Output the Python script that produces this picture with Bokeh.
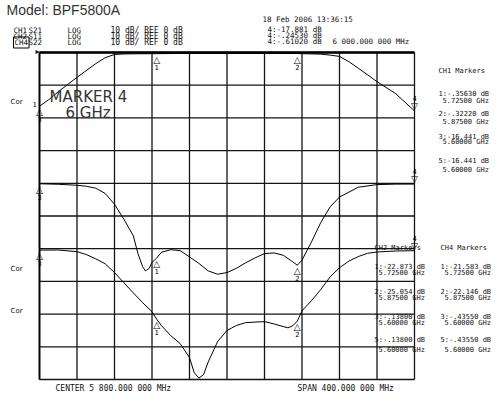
from bokeh.plotting import figure
from bokeh.models import Range1d, Label
from bokeh.embed import file_html
from bokeh.resources import INLINE

# ---------------- data ----------------
# frequency axis (GHz): center 5.8 GHz, span 400 MHz
f_start, f_stop = 5.6, 6.0
grid_f = [5.60, 5.64, 5.68, 5.72, 5.76, 5.80, 5.84, 5.88, 5.92, 5.96, 6.00]
grid_db = [0, -10, -20, -30, -40, -50, -60, -70, -80, -90, -100]

# CH1 S21 (ref 0 dB at top line, 10 dB/div)
s21_f = [5.600, 5.610, 5.620, 5.640, 5.660, 5.670, 5.680, 5.690, 5.700, 5.725, 5.750,
         5.800, 5.850, 5.875, 5.900, 5.910, 5.920, 5.930, 5.940, 5.960, 5.980, 6.000]
s21_db = [-16.44, -14.4, -12.0, -7.6, -3.4, -1.6, -0.6, -0.45, -0.4, -0.356, -0.3,
          -0.3, -0.3, -0.322, -0.5, -0.8, -1.2, -2.8, -4.8, -8.9, -12.6, -17.88]

# CH2 S11 (ref 0 dB at 4th division)
s11_f = [5.600, 5.620, 5.640, 5.650, 5.660, 5.670, 5.680, 5.690, 5.700, 5.705, 5.710,
         5.713, 5.717, 5.720, 5.725, 5.730, 5.740, 5.750, 5.760, 5.770, 5.780, 5.790,
         5.800, 5.810, 5.820, 5.830, 5.840, 5.850, 5.860, 5.870, 5.875, 5.880, 5.890,
         5.900, 5.910, 5.920, 5.940, 5.960, 5.980, 6.000]
s11_db = [-0.14, -0.3, -0.6, -0.9, -1.5, -3.1, -6.4, -11.0, -16.0, -21.5, -25.5,
          -26.8, -26.0, -24.2, -22.87, -21.1, -20.3, -20.6, -22.5, -24.5, -26.8, -27.8,
          -27.3, -26.0, -24.3, -22.8, -21.5, -21.3, -22.0, -24.0, -25.05, -23.5, -18.0,
          -12.0, -7.2, -4.2, -1.2, -0.4, -0.25, -0.245]

# CH4 S22 (ref 0 dB at 6th division)
s22_f = [5.600, 5.620, 5.640, 5.650, 5.660, 5.670, 5.680, 5.690, 5.700, 5.710, 5.720,
         5.725, 5.730, 5.740, 5.750, 5.760, 5.765, 5.770, 5.775, 5.780, 5.790, 5.800,
         5.810, 5.820, 5.840, 5.850, 5.865, 5.870, 5.875, 5.880, 5.890, 5.900, 5.910,
         5.920, 5.930, 5.940, 5.950, 5.960, 5.980, 6.000]
s22_db = [-0.4355, -0.4, -0.9, -1.8, -3.1, -4.6, -7.3, -10.4, -13.5, -16.5, -19.3,
          -21.583, -23.5, -26.6, -29.0, -33.3, -37.9, -39.6, -38.5, -34.6, -28.4, -25.0,
          -23.5, -22.6, -22.3, -23.0, -24.2, -23.6, -22.146, -19.0, -15.9, -12.5, -8.6,
          -5.8, -3.8, -2.4, -1.4, -1.0, -0.7, -0.6102]

# marker readouts (markers 1, 2, 3, 4; marker 5 = marker 3 position)
marker_ids = ["1", "2", "3", "4"]
marker_f = [5.725, 5.875, 5.600, 6.000]
s21_mk = [-0.3563, -0.3222, -16.441, -17.881]
s11_mk = [-22.873, -25.054, -0.138, -0.2453]
s22_mk = [-21.583, -22.146, -0.4355, -0.6102]

ch1_list = ["CH1 Markers", "1:-.35630 dB", "5.72500 GHz", "2:-.32220 dB", "5.87500 GHz",
            "3:-16.441 dB", "5.60000 GHz", "5:-16.441 dB", "5.60000 GHz"]
ch2_list = ["CH2 Markers", "1:-22.873 dB", "5.72500 GHz", "2:-25.054 dB", "5.87500 GHz",
            "3:-.13800 dB", "5.60000 GHz", "5:-.13800 dB", "5.60000 GHz"]
ch4_list = ["CH4 Markers", "1:-21.583 dB", "5.72500 GHz", "2:-22.146 dB", "5.87500 GHz",
            "3:-.43550 dB", "5.60000 GHz", "5:-.43550 dB", "5.60000 GHz"]
active_readout = ["4:-17.881 dB", "4:-.24530 dB", "4:-.61020 dB"]

# ---------------- layout (page pixels) ----------------
W, H = 500, 402
OFF = 0                                          # page offset of the canvas
GX0, GX1, GY0, GY1 = 39, 414, 52, 379            # graticule edges on the page
ppg = (GX1 - GX0) / (f_stop - f_start)           # px per GHz
ppd = (GY1 - GY0) / 100.0                        # px per dB
x_lo = f_start - (GX0 - OFF) / ppg
x_hi = f_stop + (OFF + W - GX1) / ppg
y_hi = (GY0 - OFF) / ppd
y_lo = -(OFF + H - GY0) / ppd

p = figure(width=W, height=H, output_backend="svg", toolbar_location=None,
           x_axis_type=None, y_axis_type=None,
           x_range=Range1d(x_lo, x_hi), y_range=Range1d(y_lo, y_hi),
           min_border=0, min_border_left=0, min_border_right=0,
           min_border_top=0, min_border_bottom=0)
p.extra_y_ranges = {"s11": Range1d(y_lo + 40, y_hi + 40), "s22": Range1d(y_lo + 60, y_hi + 60)}
p.outline_line_color = None
p.background_fill_color = "white"
p.border_fill_color = "white"
p.xgrid.visible = False
p.ygrid.visible = False

# graticule from tick arrays
n = len(grid_f)
p.segment(x0=grid_f, y0=[grid_db[-1]] * n, x1=grid_f, y1=[grid_db[0]] * n,
          line_color="#141414", line_width=1.3)
p.segment(x0=[grid_f[0]] * n, y0=grid_db, x1=[grid_f[-1]] * n, y1=grid_db,
          line_color="#141414", line_width=1.3)
p.segment(x0=[grid_f[0]], y0=[grid_db[0]], x1=[grid_f[-1]], y1=[grid_db[0]],
          line_color="black", line_width=2.6)
p.segment(x0=[grid_f[0]], y0=[grid_db[0]], x1=[grid_f[0]], y1=[grid_db[-1]],
          line_color="black", line_width=1.8)

p.line(s21_f, s21_db, line_color="black", line_width=1)
p.line(s11_f, s11_db, line_color="black", line_width=1, y_range_name="s11")
p.line(s22_f, s22_db, line_color="black", line_width=1, y_range_name="s22")

MONO = "DejaVu Sans Mono"


def gx(px):
    return f_start + (px - GX0) / ppg


def gy(py):
    return -(py - GY0) / ppd


def lab(px, py, text, size="8px", font=MONO, color="#111111", align="left", **kw):
    p.add_layout(Label(x=gx(px), y=gy(py), text=text, text_font=font,
                       text_font_size=size, text_color=color, text_align=align,
                       text_baseline="middle", **kw))


# trace markers
for trace_mk, rname in [(s21_mk, "default"), (s11_mk, "s11"), (s22_mk, "s22")]:
    for mid, mf, mv in zip(marker_ids, marker_f, trace_mk):
        if mid == "4":
            sym, num, so, no = "▽", "4", 5, 13
        else:
            sym, num, so, no = "△", mid, -6, -13
        p.add_layout(Label(x=mf, y=mv, y_range_name=rname, text=sym, text_font="DejaVu Sans",
                           text_font_size="9px", text_align="center", text_baseline="middle",
                           y_offset=so, text_color="black"))
        p.add_layout(Label(x=mf, y=mv, y_range_name=rname, text=num, text_font=MONO,
                           text_font_size="7px", text_align="center", text_baseline="middle",
                           y_offset=no, text_color="black"))

# title and header
lab(6, 9, "Model: BPF5800A", size="14px", font="Liberation Sans", color="#333333")
lab(262, 19, "18 Feb 2006  13:36:15", size="7.5px")
rows_y = [30, 36, 42]
for ch, par, ry in zip(["CH1", "CH2", "CH4"], ["S21", "S11", "S22"], rows_y):
    if ch == "CH4":
        lab(13, ry, ch, size="7.5px", border_line_color="black", border_line_width=1, padding=1)
    else:
        lab(13, ry, ch, size="7.5px")
    lab(28, ry, par, size="7.5px")
    lab(67, ry, "LOG", size="7.5px")
    lab(110, ry, "10 dB/ REF 0 dB", size="8px")
for txt, ry in zip(active_readout, [29, 35, 41]):
    lab(267, ry, txt, size="7.5px")
lab(332, 41, "6 000.000 000 MHz", size="7.5px")

# marker lists
ch1_y = [70, 93, 100, 113, 121, 136, 141, 160, 169]
for txt, ry in zip(ch1_list, ch1_y):
    lab(438 if "GHz" not in txt else 442, ry, txt, size="7px")
ch24_y = [247, 266, 272, 291, 297, 316, 322, 339, 349]
for txt, ry in zip(ch2_list, ch24_y):
    lab(374 if "GHz" not in txt else 378, ry, txt, size="7px")
for txt, ry in zip(ch4_list, ch24_y):
    lab(440 if "GHz" not in txt else 444, ry, txt, size="7px")

# annotations on the graticule
lab(49, 96, "MARKER 4", size="15px", font="DejaVu Sans", color="#333333")
lab(65, 112, "6 GHz", size="15px", font="DejaVu Sans", color="#333333")
for cy in [101, 268, 310]:
    lab(10, cy, "Cor", size="7px", font="DejaVu Sans")
lab(32, 103, "1", size="7px")
lab(35, 51, "▸", size="8px", font="DejaVu Sans")

# footer
lab(55, 388, "CENTER 5 800.000 000 MHz", size="8px")
lab(297, 388, "SPAN 400.000 000 MHz", size="8px")

open("out.html", "w").write(file_html(p, INLINE))
